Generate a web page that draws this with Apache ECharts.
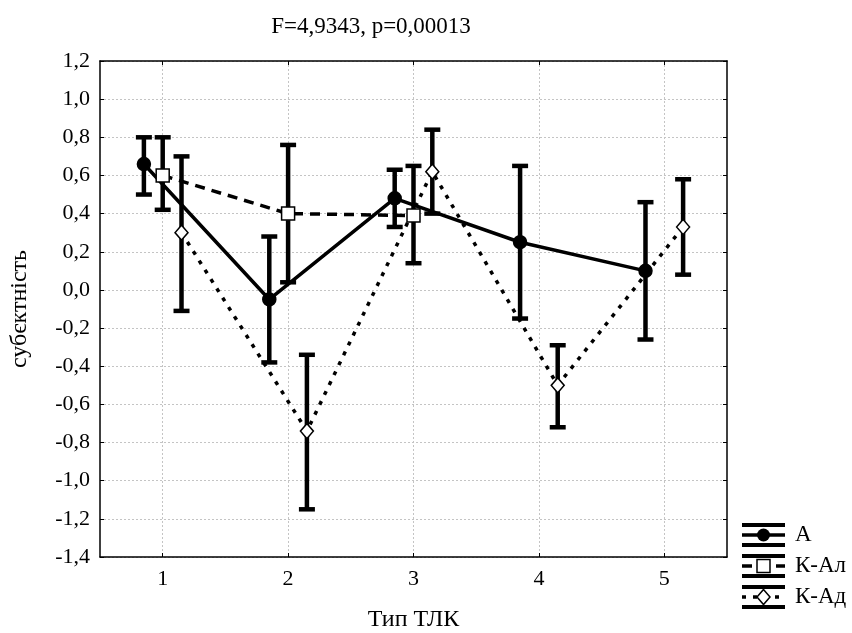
<!DOCTYPE html>
<html><head><meta charset="utf-8">
<script src="https://cdn.jsdelivr.net/npm/echarts@6/dist/echarts.min.js"></script>
<style>html,body{margin:0;padding:0;background:#fff}#c{width:852px;height:633px}</style>
</head><body><div id="c"></div>
<script>
// ---- data ----
const titleText = 'F=4,9343, p=0,00013';
const xAxisName = 'Тип ТЛК';
const yAxisName = 'субєктність';
const categories = [1, 2, 3, 4, 5];
const seriesNames = ['А', 'К-Ал', 'К-Ад'];

const A_mean = [0.66, -0.05, 0.48, 0.25, 0.10];
const A_low  = [0.50, -0.38, 0.33, -0.15, -0.26];
const A_high = [0.80, 0.28, 0.63, 0.65, 0.46];

const KAl_cats = [1, 2, 3];
const KAl_mean = [0.60, 0.40, 0.39];
const KAl_low  = [0.42, 0.04, 0.14];
const KAl_high = [0.80, 0.76, 0.65];

const KAd_mean = [0.30, -0.74, 0.62, -0.50, 0.33];
const KAd_low  = [-0.11, -1.15, 0.40, -0.72, 0.08];
const KAd_high = [0.70, -0.34, 0.84, -0.29, 0.58];

const yMin = -1.4, yMax = 1.2, yStep = 0.2;
const xTickValues = [1, 2, 3, 4, 5];

// ---- build ----
const offsets = [-0.15, 0, 0.15];
const FONT = '"Liberation Serif", "Times New Roman", serif';

function pts(cats, vals, off) { return cats.map((c, i) => [c + off, vals[i]]); }
function errs(cats, lo, hi, off) { return cats.map((c, i) => [c + off, lo[i], hi[i]]); }

function renderErr(params, api) {
  const x = api.value(0), lo = api.value(1), hi = api.value(2);
  const a = api.coord([x, lo]), b = api.coord([x, hi]);
  const cw = 8;
  const st = { stroke: '#000', lineWidth: 4.5 };
  return { type: 'group', children: [
    { type: 'line', shape: { x1: a[0], y1: a[1], x2: b[0], y2: b[1] }, style: st },
    { type: 'line', shape: { x1: a[0] - cw, y1: a[1], x2: a[0] + cw, y2: a[1] }, style: st },
    { type: 'line', shape: { x1: b[0] - cw, y1: b[1], x2: b[0] + cw, y2: b[1] }, style: st }
  ]};
}

const groups = [
  { name: seriesNames[0], cats: categories, mean: A_mean, lo: A_low, hi: A_high, off: offsets[0],
    line: { type: 'solid', width: 3.5 }, symbol: 'circle', size: 13, fill: '#000' },
  { name: seriesNames[1], cats: KAl_cats, mean: KAl_mean, lo: KAl_low, hi: KAl_high, off: offsets[1],
    line: { type: [10, 7], width: 3.5 }, symbol: 'rect', size: 13, fill: '#fff' },
  { name: seriesNames[2], cats: categories, mean: KAd_mean, lo: KAd_low, hi: KAd_high, off: offsets[2],
    line: { type: [4, 7], width: 3.5 }, symbol: 'diamond', size: [13, 15], fill: '#fff' }
];

const series = [];
groups.forEach(g => {
  series.push({
    type: 'custom', name: g.name + '_err', renderItem: renderErr,
    data: errs(g.cats, g.lo, g.hi, g.off), encode: { x: 0, y: [1, 2] }, z: 3, silent: true
  });
});
groups.forEach(g => {
  series.push({
    type: 'line', name: g.name, data: pts(g.cats, g.mean, g.off),
    lineStyle: { color: '#000', width: g.line.width, type: g.line.type },
    symbol: g.symbol, symbolSize: g.size, showAllSymbol: true,
    itemStyle: { color: g.fill, borderColor: '#000', borderWidth: 1.5 },
    z: 4, animation: false
  });
});

const fmt = v => {
  const r = Math.round(v * 10) / 10;
  return r.toFixed(1).replace('.', ',');
};

const chart = echarts.init(document.getElementById('c'), null, { renderer: 'canvas' });

// legend drawn as graphic elements
const legendY = [535, 566, 597];
const legendChildren = [];
groups.forEach((g, i) => {
  const yc = legendY[i];
  const x0 = 742, x1 = 785, xm = (x0 + x1) / 2;
  [-10, 10].forEach(dy => legendChildren.push({ type: 'line', shape: { x1: x0, y1: yc + dy, x2: x1, y2: yc + dy }, style: { stroke: '#000', lineWidth: 4 } }));
  legendChildren.push({ type: 'line', shape: { x1: x0, y1: yc, x2: x1, y2: yc }, style: { stroke: '#000', lineWidth: g.line.width, lineDash: g.line.type === 'solid' ? null : g.line.type } });
  let sym;
  if (g.symbol === 'circle') sym = { type: 'circle', shape: { cx: xm, cy: yc, r: 6.5 }, style: { fill: '#000' } };
  else if (g.symbol === 'rect') sym = { type: 'rect', shape: { x: xm - 6.5, y: yc - 6.5, width: 13, height: 13 }, style: { fill: '#fff', stroke: '#000', lineWidth: 1.5 } };
  else sym = { type: 'polygon', shape: { points: [[xm, yc - 7.5], [xm + 6.5, yc], [xm, yc + 7.5], [xm - 6.5, yc]] }, style: { fill: '#fff', stroke: '#000', lineWidth: 1.5 } };
  legendChildren.push(sym);
  legendChildren.push({ type: 'text', style: { x: 795, y: yc, text: g.name, font: '23px ' + FONT, fill: '#000', verticalAlign: 'middle' } });
});

const option = {
  animation: false,
  backgroundColor: '#fff',
  title: { text: titleText, left: 366, top: 10, textAlign: 'center',
    textStyle: { fontFamily: FONT, fontSize: 23, fontWeight: 'normal', color: '#000' } },
  grid: { left: 100, right: 125, top: 61, bottom: 76, show: false, outerBoundsMode: 'none', containLabel: false },
  xAxis: [{
    type: 'value', min: 0.5, max: 5.5, position: 'bottom',
    name: xAxisName, nameLocation: 'middle', nameGap: 51,
    nameTextStyle: { fontFamily: FONT, fontSize: 24, color: '#000' },
    axisLine: { show: true, onZero: false, lineStyle: { color: '#000', width: 1.5 } },
    axisTick: { show: true, inside: true, length: 4, customValues: xTickValues, lineStyle: { color: '#000' } },
    axisLabel: { customValues: xTickValues, fontFamily: FONT, fontSize: 22, color: '#000', margin: 11, formatter: v => String(v) },
    splitLine: { show: true, lineStyle: { color: '#c4c4c4', type: [2, 2], width: 1 } }
  }, {
    type: 'value', min: 0.5, max: 5.5, position: 'top',
    axisLine: { show: true, onZero: false, lineStyle: { color: '#000', width: 1.5 } },
    axisTick: { show: true, inside: true, length: 4, customValues: xTickValues, lineStyle: { color: '#000' } },
    axisLabel: { show: false }, splitLine: { show: false }
  }],
  yAxis: [{
    type: 'value', min: yMin, max: yMax, interval: yStep, position: 'left',
    name: yAxisName, nameLocation: 'middle', nameGap: 68, nameRotate: 90,
    nameTextStyle: { fontFamily: FONT, fontSize: 24, color: '#000' },
    axisLine: { show: true, onZero: false, lineStyle: { color: '#000', width: 1.5 } },
    axisTick: { show: true, inside: true, length: 4, lineStyle: { color: '#000' } },
    axisLabel: { fontFamily: FONT, fontSize: 22, color: '#000', margin: 10, formatter: fmt },
    splitLine: { show: true, lineStyle: { color: '#c4c4c4', type: [2, 2], width: 1 } }
  }, {
    type: 'value', min: yMin, max: yMax, interval: yStep, position: 'right',
    axisLine: { show: true, onZero: false, lineStyle: { color: '#000', width: 1.5 } },
    axisTick: { show: true, inside: true, length: 4, lineStyle: { color: '#000' } },
    axisLabel: { show: false }, splitLine: { show: false }
  }],
  series: series,
  graphic: [{ type: 'group', children: legendChildren }]
};
chart.setOption(option);
</script>
</body></html>
